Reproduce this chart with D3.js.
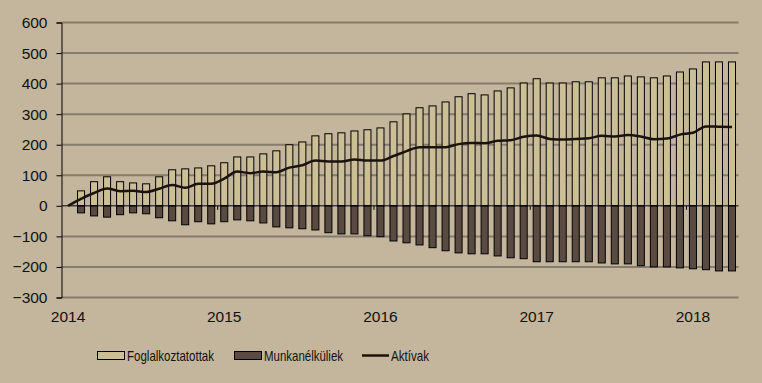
<!DOCTYPE html>
<html>
<head>
<meta charset="utf-8">
<script src="https://cdn.jsdelivr.net/npm/d3@7"></script>
<style>
  body { margin: 0; background: #c4b59d; }
  svg { display: block; }
  .ax text { font-family: "Liberation Sans", Arial, sans-serif; font-size: 15.5px; fill: #111; }
  .leg text { font-family: "Liberation Sans Narrow", "Arial Narrow", "Liberation Sans", sans-serif; font-size: 15px; fill: #111; }
</style>
</head>
<body>
<svg width="762" height="383"></svg>
<script>
// monthly categories, Jan 2014 - Apr 2018
var months = ["2014.01","2014.02","2014.03","2014.04","2014.05","2014.06","2014.07","2014.08","2014.09","2014.10","2014.11","2014.12",
  "2015.01","2015.02","2015.03","2015.04","2015.05","2015.06","2015.07","2015.08","2015.09","2015.10","2015.11","2015.12",
  "2016.01","2016.02","2016.03","2016.04","2016.05","2016.06","2016.07","2016.08","2016.09","2016.10","2016.11","2016.12",
  "2017.01","2017.02","2017.03","2017.04","2017.05","2017.06","2017.07","2017.08","2017.09","2017.10","2017.11","2017.12",
  "2018.01","2018.02","2018.03","2018.04"];
var yearLabels = ["2014","2015","2016","2017","2018"];
var yTicks = [-300,-200,-100,0,100,200,300,400,500,600];

var foglalkoztatottak = [0,49,79,95,79,75,72,95,118,121,124,131,141,160,160,170,180,200,209,229,236,239,245,249,255,275,301,321,327,340,357,367,363,376,386,402,416,402,402,406,406,419,419,425,422,419,425,438,448,471,471,471];
var munkanelkuliek = [0,-23,-33,-37,-29,-23,-26,-39,-49,-62,-52,-59,-52,-46,-49,-56,-69,-72,-75,-79,-88,-92,-92,-98,-101,-115,-121,-128,-137,-147,-154,-157,-157,-164,-170,-173,-183,-183,-183,-183,-183,-187,-190,-190,-196,-200,-200,-203,-206,-209,-213,-213];
var aktivak = [0,23,42,57,48,49,45,56,68,59,72,72,89,112,107,112,110,125,133,148,145,145,152,148,148,163,179,192,192,192,202,206,205,213,215,226,230,219,217,219,221,229,227,232,227,218,220,233,239,260,259,258];

var svg = d3.select("svg");
var pLeft = 61.5, pRight = 738.5, pTop = 22.5, pBottom = 297.5;

var x = d3.scaleBand().domain(months).range([pLeft, pRight]).paddingInner(0.46).paddingOuter(0.23);
var y = d3.scaleLinear().domain([-300, 600]).range([pBottom, pTop]);
var xc = function(m) { return x(m) + x.bandwidth() / 2; };

// gridlines
svg.append("g").selectAll("line").data(yTicks.filter(function(t) { return t != 0; }))
  .enter().append("line")
  .attr("x1", pLeft).attr("x2", pRight)
  .attr("y1", function(d) { return y(d); }).attr("y2", function(d) { return y(d); })
  .attr("stroke", "#857c6e").attr("stroke-width", 2);

// bars
svg.append("g").selectAll("rect").data(months)
  .enter().filter(function(d, i) { return foglalkoztatottak[i] != 0; }).append("rect")
  .attr("x", function(d) { return x(d); })
  .attr("width", x.bandwidth())
  .attr("y", function(d) { return y(foglalkoztatottak[months.indexOf(d)]); })
  .attr("height", function(d) { return y(0) - y(foglalkoztatottak[months.indexOf(d)]); })
  .attr("fill", "#cbbf95").attr("stroke", "#000").attr("stroke-width", 1);

svg.append("g").selectAll("rect").data(months)
  .enter().filter(function(d, i) { return munkanelkuliek[i] != 0; }).append("rect")
  .attr("x", function(d) { return x(d); })
  .attr("width", x.bandwidth())
  .attr("y", y(0))
  .attr("height", function(d) { return y(munkanelkuliek[months.indexOf(d)]) - y(0); })
  .attr("fill", "#5a4b42").attr("stroke", "#000").attr("stroke-width", 1);

// zero line + year ticks
svg.append("line").attr("x1", pLeft).attr("x2", pRight).attr("y1", y(0)).attr("y2", y(0))
  .attr("stroke", "#000").attr("stroke-width", 1);
svg.append("g").selectAll("line").data([12, 24, 36, 48])
  .enter().append("line")
  .attr("x1", function(i) { return x(months[i]) - x.step() * 0.23; })
  .attr("x2", function(i) { return x(months[i]) - x.step() * 0.23; })
  .attr("y1", y(0)).attr("y2", y(0) + 4)
  .attr("stroke", "#000").attr("stroke-width", 1);

// line
var line = d3.line()
  .x(function(d, i) { return xc(months[i]); })
  .y(function(d) { return y(d); })
  .curve(d3.curveMonotoneX);
svg.append("path").datum(aktivak).attr("d", line)
  .attr("fill", "none").attr("stroke", "#1c120c").attr("stroke-width", 2.5);

// y axis
var yAxis = d3.axisLeft(y).tickValues(yTicks).tickSize(5).tickPadding(9);
var ya = svg.append("g").attr("class", "ax").attr("transform", "translate(" + pLeft + ",0)").call(yAxis);
ya.select(".domain").attr("stroke", "#000");
ya.selectAll(".tick line").attr("stroke", "#000");
ya.selectAll("text").attr("font-family", null).attr("font-size", null);

// x labels
svg.append("g").attr("class", "ax").selectAll("text").data(yearLabels)
  .enter().append("text")
  .attr("x", function(d, i) { return xc(months[i * 12]); })
  .attr("y", 322)
  .attr("text-anchor", "middle")
  .text(function(d) { return d; });

// legend
var leg = svg.append("g").attr("class", "leg");
leg.append("rect").attr("x", 97.5).attr("y", 351.5).attr("width", 27).attr("height", 8)
  .attr("fill", "#cbbf95").attr("stroke", "#000");
leg.append("text").attr("x", 127).attr("y", 360.5).attr("textLength", 87).attr("lengthAdjust", "spacingAndGlyphs")
  .text("Foglalkoztatottak");
leg.append("rect").attr("x", 234.5).attr("y", 351.5).attr("width", 27).attr("height", 8)
  .attr("fill", "#5a4b42").attr("stroke", "#000");
leg.append("text").attr("x", 264).attr("y", 360.5).attr("textLength", 79).attr("lengthAdjust", "spacingAndGlyphs")
  .text("Munkanélküliek");
leg.append("line").attr("x1", 362).attr("x2", 389).attr("y1", 355.5).attr("y2", 355.5)
  .attr("stroke", "#1c120c").attr("stroke-width", 2.5);
leg.append("text").attr("x", 391).attr("y", 360.5).attr("textLength", 38).attr("lengthAdjust", "spacingAndGlyphs")
  .text("Aktívak");
</script>
</body>
</html>
